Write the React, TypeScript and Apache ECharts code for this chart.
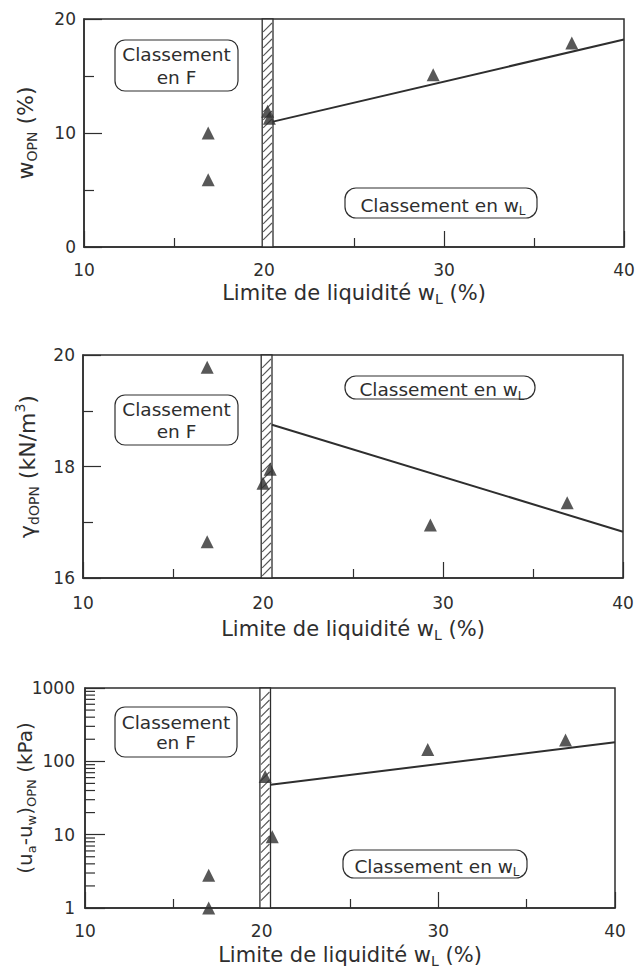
import React, { useEffect, useRef } from "react";
import * as echarts from "echarts";

const FONT = "DejaVu Sans";
const INK = "#2e2e2e";

// shared x axis (liquid limit wL, %)
const xMin = 10;
const xMax = 40;
const xInterval = 10;
const bandX = [19.9, 20.5];

// Panel 1: wOPN (%)
const p1X = [16.9, 16.9, 20.2, 20.3, 29.4, 37.1];
const p1Y = [10.0, 5.9, 11.9, 11.3, 15.1, 17.9];
const p1LineX = [20.5, 40];
const p1LineY = [11.0, 18.2];

// Panel 2: gamma dOPN (kN/m3)
const p2X = [16.9, 16.9, 20.0, 20.4, 29.3, 36.9];
const p2Y = [19.78, 16.65, 17.7, 17.95, 16.95, 17.35];
const p2LineX = [20.5, 40];
const p2LineY = [18.75, 16.83];

// Panel 3: (ua-uw)OPN (kPa), log scale
const p3X = [17.0, 17.0, 20.2, 20.6, 29.4, 37.2];
const p3Y = [2.8, 1.0, 62, 9.4, 145, 195];
const p3LineX = [20.5, 40];
const p3LineY = [48, 182];
const logMinorTicks = [2, 3, 4, 5, 6, 7, 8, 9, 20, 30, 40, 50, 60, 70, 80, 90, 200, 300, 400, 500, 600, 700, 800, 900];

const zip = (a: number[], b: number[]) => a.map((v, i) => [v, b[i]]);

const makeRich = (subSize: number) => ({
  sub: { fontSize: subSize, fontFamily: FONT, color: INK, lineHeight: 12, verticalAlign: "bottom" },
  sup: { fontSize: subSize, fontFamily: FONT, color: INK, lineHeight: 12, verticalAlign: "top" },
});

const xName = "Limite de liquidité w{sub|L} (%)";

function makeX(gridIndex: number, nameGap: number, labelMargin: number) {
  return {
    type: "value",
    gridIndex,
    min: xMin,
    max: xMax,
    interval: xInterval,
    axisLine: { show: true, lineStyle: { color: INK, width: 1.5 } },
    axisTick: { show: true, inside: true, length: 16, lineStyle: { color: INK, width: 1.2 } },
    minorTick: { show: true, splitNumber: 2, length: 9, lineStyle: { color: INK, width: 1.2 } },
    splitLine: { show: false },
    minorSplitLine: { show: false },
    axisLabel: { fontSize: 17, fontFamily: FONT, color: INK, margin: labelMargin },
    name: xName,
    nameLocation: "middle",
    nameGap,
    nameMoveOverlap: false,
    nameTextStyle: { fontSize: 21, lineHeight: 26, fontFamily: FONT, color: INK, rich: makeRich(14) },
  };
}

function bandSeries(idx: number, yRef: number) {
  return {
    type: "custom",
    xAxisIndex: idx,
    yAxisIndex: idx,
    z: 1,
    silent: true,
    clip: false,
    data: [[bandX[0], bandX[1], yRef]],
    encode: { x: [0, 1], y: 2 },
    renderItem: (params: any, api: any) => {
      const cs = params.coordSys;
      const x0 = api.coord([api.value(0), api.value(2)])[0];
      const x1 = api.coord([api.value(1), api.value(2)])[0];
      const top = cs.y;
      const bottom = cs.y + cs.height;
      const w = x1 - x0;
      const children: any[] = [
        {
          type: "rect",
          shape: { x: x0, y: top, width: w, height: bottom - top },
          style: { fill: "#fff", stroke: INK, lineWidth: 1.3 },
        },
      ];
      for (let y = top + w + 2; y <= bottom - 1; y += 8) {
        children.push({
          type: "line",
          shape: { x1: x0 + 1, y1: y, x2: x1 - 1, y2: y - w + 2 },
          style: { stroke: "#555", lineWidth: 1.1 },
        });
      }
      return { type: "group", children };
    },
  };
}

function scatter(idx: number, xs: number[], ys: number[]) {
  return {
    type: "scatter",
    xAxisIndex: idx,
    yAxisIndex: idx,
    z: 5,
    symbol: "triangle",
    symbolSize: 13,
    itemStyle: { color: INK },
    data: zip(xs, ys),
  };
}

function line(idx: number, xs: number[], ys: number[]) {
  return {
    type: "line",
    xAxisIndex: idx,
    yAxisIndex: idx,
    z: 4,
    symbol: "none",
    lineStyle: { color: INK, width: 2 },
    data: zip(xs, ys),
  };
}

const yCommon = {
  axisLine: { show: true, lineStyle: { color: INK, width: 1.5 } },
  axisTick: { show: true, inside: true, length: 18, lineStyle: { color: INK, width: 1.2 } },
  minorTick: { show: true, splitNumber: 2, length: 10, lineStyle: { color: INK, width: 1.2 } },
  splitLine: { show: false },
  minorSplitLine: { show: false },
  axisLabel: { fontSize: 17, fontFamily: FONT, color: INK, margin: 8 },
  nameLocation: "middle",
  nameMoveOverlap: false,
  nameTextStyle: { fontSize: 22, lineHeight: 28, fontFamily: FONT, color: INK, rich: makeRich(14) },
};

function boxF(x: number, y: number, w: number, h: number, lh: number) {
  return [
    { type: "rect", shape: { x, y, width: w, height: h, r: 10 }, style: { fill: "#fff", stroke: INK, lineWidth: 1.2 }, z: 10 },
    {
      type: "text",
      z: 11,
      style: {
        x: x + w / 2,
        y: y + h / 2,
        text: "Classement\nen F",
        fontSize: 18.5,
        fontFamily: FONT,
        fill: INK,
        align: "center",
        verticalAlign: "middle",
        lineHeight: lh,
      },
    },
  ];
}

function boxW(x: number, y: number, w: number, h: number) {
  return [
    { type: "rect", shape: { x, y, width: w, height: h, r: 11 }, style: { fill: "#fff", stroke: INK, lineWidth: 1.2 }, z: 10 },
    {
      type: "text",
      z: 11,
      style: {
        x: x + w / 2 + 2,
        y: y + h / 2 + 2,
        text: "Classement en w{sub|L}",
        fontSize: 18.5,
        lineHeight: 24,
        fontFamily: FONT,
        fill: INK,
        align: "center",
        verticalAlign: "middle",
        rich: { sub: { fontSize: 12, fontFamily: FONT, fill: INK, color: INK, lineHeight: 10, verticalAlign: "bottom" } },
      },
    },
  ];
}

export default function App() {
  const ref = useRef<HTMLDivElement>(null);
  useEffect(() => {
    if (!ref.current) return;
    const chart = echarts.init(ref.current, undefined, { renderer: "svg" });
    const gridStyle = {
      show: true,
      borderColor: INK,
      borderWidth: 1.5,
      backgroundColor: "transparent",
      containLabel: false,
      outerBoundsMode: "none",
    };
    chart.setOption({
      animation: false,
      backgroundColor: "#fff",
      grid: [
        { ...gridStyle, left: 84, top: 19, width: 540, height: 228 },
        { ...gridStyle, left: 83, top: 355, width: 540, height: 223 },
        { ...gridStyle, left: 85, top: 688, width: 530, height: 220 },
      ],
      xAxis: [makeX(0, 33, 14), makeX(1, 38, 16), makeX(2, 34, 14)],
      yAxis: [
        { ...yCommon, type: "value", gridIndex: 0, min: 0, max: 20, interval: 10, name: "w{sub|OPN} (%)", nameGap: 45 },
        { ...yCommon, type: "value", gridIndex: 1, min: 16, max: 20, interval: 2, name: "γ{sub|dOPN} (kN/m{sup|3})", nameGap: 42 },
        {
          ...yCommon,
          type: "log",
          logBase: 10,
          gridIndex: 2,
          min: 1,
          max: 1000,
          splitNumber: 3,
          minorTick: { show: false },
          axisTick: { show: true, inside: true, length: 20, lineStyle: { color: INK, width: 1.2 } },
          axisLabel: { ...yCommon.axisLabel, margin: 10, formatter: (v: number) => String(v) },
          name: "(u{sub|a}-u{sub|w}){sub|OPN} (kPa)",
          nameGap: 47,
          nameTextStyle: { fontSize: 20, lineHeight: 27, fontFamily: FONT, color: INK, rich: makeRich(13) },
        },
      ],
      graphic: [
        ...boxF(115, 40, 123, 51, 23),
        ...boxW(345, 188, 192, 30),
        ...boxF(115, 395, 123, 50, 22),
        ...boxW(345, 376, 190, 23),
        ...boxF(115, 707, 122, 50, 20),
        ...boxW(343, 850, 184, 28),
      ],
      series: [
        bandSeries(0, 0),
        bandSeries(1, 16),
        bandSeries(2, 1),
        line(0, p1LineX, p1LineY),
        line(1, p2LineX, p2LineY),
        line(2, p3LineX, p3LineY),
        scatter(0, p1X, p1Y),
        scatter(1, p2X, p2Y),
        scatter(2, p3X, p3Y),
        {
          type: "custom",
          xAxisIndex: 2,
          yAxisIndex: 2,
          z: 3,
          silent: true,
          data: logMinorTicks.map((v) => [xMin, v]),
          renderItem: (params: any, api: any) => {
            const p = api.coord([api.value(0), api.value(1)]);
            return {
              type: "line",
              shape: { x1: p[0], y1: p[1], x2: p[0] + 10, y2: p[1] },
              style: { stroke: INK, lineWidth: 1.2 },
            };
          },
        },
      ],
    });
    return () => chart.dispose();
  }, []);
  return (
    <div
      ref={ref}
      style={{ position: "absolute", left: 0, top: 0, width: 638, height: 970, background: "#fff" }}
    />
  );
}
